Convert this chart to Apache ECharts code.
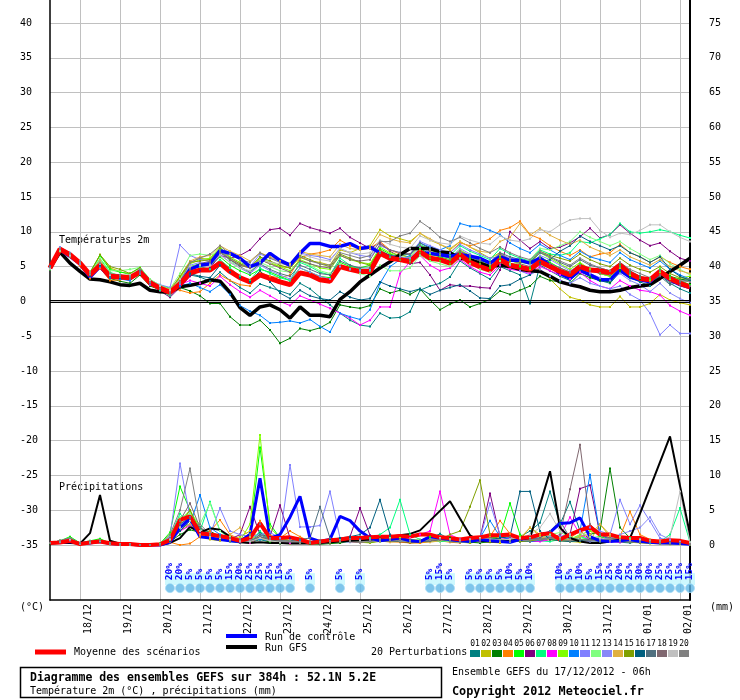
<!DOCTYPE html>
<html>
<head>
<meta charset="utf-8">
<script src="https://cdn.jsdelivr.net/npm/echarts@6.0.0/dist/echarts.min.js"></script>
<style>
  html, body { margin: 0; padding: 0; background: #fff; }
  #main { width: 740px; height: 700px; }
</style>
</head>
<body>
<div id="main"></div>
<script>
// forecast steps (hours after 17/12/2012 06h)
const HOURS = [0,6,12,18,24,30,36,42,48,54,60,66,72,78,84,90,96,102,108,114,120,126,132,138,144,150,156,162,168,174,180,186,192,198,204,210,216,222,228,234,240,246,252,258,264,270,276,282,288,294,300,306,312,318,324,330,336,342,348,354,360,366,372,378,384];
const DAY_TICKS = [18,42,66,90,114,138,162,186,210,234,258,282,306,330,354,378];
const DAY_LABELS = ['18/12','19/12','20/12','21/12','22/12','23/12','24/12','25/12','26/12','27/12','28/12','29/12','30/12','31/12','01/01','02/01'];
const TEMP_TICKS = [-35,-30,-25,-20,-15,-10,-5,0,5,10,15,20,25,30,35,40];
const MM_TICKS = [0,5,10,15,20,25,30,35,40,45,50,55,60,65,70,75];
const MEMBER_NAMES = ['01','02','03','04','05','06','07','08','09','10','11','12','13','14','15','16','17','18','19','20'];
const MEMBER_COLORS = ['#008080','#c0c000','#008000','#ff8000','#00ff00','#800080','#00ff80','#ff00ff','#80ff00','#0080ff','#8080ff','#80ff80','#8888f8','#e0b040','#80a000','#006080','#507080','#806870','#c0c0c0','#808080'];

// temperature 2m (°C)
const meanTemp = [4.8,7.5,6.7,5.5,3.8,5.2,3.6,3.5,3.4,4.2,2.7,1.9,1.3, 2.5,4.1,4.5,4.5, 5.5,4.3,3.4,2.8, 3.8,3.3,2.8,2.4, 4.1,3.8,3.1,2.9, 5.0,4.6,4.3,4.3, 6.9,6.2,6.0,5.7, 7.1,6.2,6.0,5.5, 6.7,5.6,5.0,4.5, 6.0,5.2,4.9,4.6, 5.7,5.0,4.3,3.8, 5.0,4.5,4.4,4.1, 5.2,4.0,3.3,3.1, 4.3,3.3,2.6,2.1];
const gfsTemp = [4.8,7.1,5.5,4.3,3.2,3.1,2.8,2.4,2.3,2.6,1.6,1.4,1.3, 2.1,2.3,2.6,3.1, 2.9,1.3,-0.9,-2.0, -0.8,-0.5,-1.2,-2.4, -0.8,-2.0,-2.0,-2.2, 0.3,1.4,2.8,3.8, 4.8,5.7,6.7,7.6, 7.6,7.6,7.1,7.0, 6.2,6.0,5.5,5.0, 5.2,5.0,4.6,4.4, 4.3,3.6,2.8,2.4, 2.1,1.6,1.4,1.4, 1.6,2.0,2.2,2.4, 3.3,4.3,5.2,6.2];
const ctrlTemp = [4.8,7.4,6.5,5.4,3.5,5.0,3.5,3.6,3.3,4.3,2.8,1.9,1.2, 2.4,4.6,5.2,5.4, 7.3,6.9,6.2,5.0, 5.5,6.9,5.9,5.2, 6.9,8.3,8.3,7.9, 7.9,8.3,7.6,7.8, 7.0,6.4,5.9,5.9, 6.9,6.9,6.7,6.5, 6.7,6.5,6.2,5.5, 6.4,5.9,5.9,5.5, 6.2,5.2,4.0,3.3, 4.5,3.8,3.1,3.1, 4.5,3.5,3.1,2.8, 4.3,3.1,2.4,2.0];
const t01 = [4.8,7.6,6.8,5.4,3.5,5.6,3.9,3.7,3.6,4.6,2.9,2.0,1.0, 2.2,3.8,3.5,2.9, 4.2,3.0,2.0,1.2, 2.5,2.0,1.5,1.0, 2.6,1.8,0.6,-0.5, -1.7,-2.7,-3.4,-3.6, -1.7,-2.4,-2.3,-1.5, 1.6,2.2,2.6,3.5, 5.8,4.8,4.0,3.2, 5.0,4.4,3.8,-0.3, 5.2,4.4,3.6,3.0, 4.4,3.6,3.0,2.6, 4.2,3.4,2.8,2.2, 3.8,2.6,1.8,1.2];
const t02 = [4.9,7.4,6.5,5.6,4.0,6.7,4.8,4.3,3.8,4.6,2.6,1.6,0.8, 3.5,5.6,6.2,6.0, 7.4,6.0,5.2,4.8, 6.0,5.4,5.0,4.8, 6.3,5.8,5.6,5.2, 7.4,7.0,7.6,8.0, 10.3,9.4,9.0,8.6, 9.8,8.8,8.2,7.4, 8.6,7.8,7.0,6.2, 7.0,6.0,5.2,4.6, 4.6,3.2,1.8,0.6, 0.2,-0.5,-0.8,-0.8, 0.7,-0.8,-0.8,-0.3, 1.0,0.2,-0.2,-0.5];
const t03 = [4.7,7.5,6.9,5.7,3.9,5.0,3.3,2.9,2.6,3.8,2.2,1.7,1.5, 2.0,1.5,0.8,-0.3, -0.3,-2.2,-3.4,-3.4, -2.7,-4.1,-6.0,-5.3, -3.9,-4.2,-3.8,-3.0, -0.5,-0.8,-1.0,-0.6, 1.8,1.2,1.6,1.0, 1.8,0.2,-1.2,-0.4, 0.2,-0.8,-0.3,0.3, 1.5,1.0,1.6,2.2, 3.6,3.0,2.8,2.6, 4.0,3.4,3.0,2.8, 4.4,3.6,3.2,3.0, 4.4,3.6,3.2,3.0];
const t04 = [5.0,7.7,6.6,5.2,3.3,4.8,3.0,3.1,3.3,4.4,3.0,2.2,1.8, 1.6,1.2,1.4,2.6, 3.8,3.0,2.4,2.2, 4.2,3.6,3.4,3.8, 6.2,6.8,7.0,7.4, 8.8,8.0,7.8,7.6, 8.6,7.4,6.8,6.2, 7.4,6.6,6.8,7.0, 8.4,8.0,8.4,9.0, 10.2,10.6,11.5,9.6, 9.0,8.0,7.2,6.6, 7.4,6.4,6.8,7.0, 8.2,7.0,6.4,5.6, 6.4,5.6,5.0,4.6];
const t05 = [4.6,7.3,6.7,5.6,4.2,6.6,4.6,4.2,4.0,4.9,3.1,2.3,1.9, 3.2,5.0,5.4,5.2, 6.4,5.2,4.4,3.8, 4.6,4.2,3.6,3.0, 4.8,4.2,3.6,3.4, 5.6,5.0,4.8,5.2, 7.6,6.8,6.4,6.0, 7.6,6.8,6.4,6.0, 7.0,6.2,5.4,4.8, 6.2,5.4,5.0,4.8, 6.4,5.6,4.8,4.2, 5.4,4.6,4.0,3.6, 5.2,4.2,3.6,3.2, 4.6,3.6,3.0,2.4];
const t06 = [4.8,7.5,6.6,5.5,3.7,5.4,3.7,3.3,3.0,4.1,2.5,1.5,0.6, 2.0,3.6,4.4,4.8, 6.6,6.2,6.6,7.4, 9.0,10.3,10.5,9.5, 11.2,10.6,10.2,9.8, 10.5,9.2,8.4,7.6, 8.4,7.2,6.4,5.4, 5.6,3.8,1.6,2.4, 2.2,2.2,2.0,1.9, 4.5,10.0,8.8,7.6, 8.6,7.6,7.8,8.4, 9.3,10.5,9.1,9.6, 11.0,9.8,8.8,8.0, 8.4,7.2,6.2,5.8];
const t07 = [4.9,7.4,6.5,5.6,4.0,6.1,4.2,3.6,3.2,4.0,2.5,1.6,0.8, 2.6,4.6,5.0,4.6, 6.0,4.8,3.6,3.0, 4.8,4.0,3.4,3.0, 5.6,5.0,4.2,3.8, 6.2,5.2,4.6,4.4, 7.0,6.4,6.6,6.8, 8.2,7.4,7.0,6.6, 8.0,7.2,6.6,6.0, 7.6,6.8,6.2,5.8, 7.4,6.8,6.6,7.0, 8.6,8.4,9.0,9.6, 11.2,10.0,9.8,10.0, 10.3,10.0,9.5,9.1];
const t08 = [4.8,7.6,6.8,5.4,3.5,5.0,3.5,3.4,3.2,4.0,2.4,1.8,1.2, 2.4,3.0,2.6,2.2, 3.6,2.4,1.4,0.6, 1.6,0.8,0.0,-0.6, 0.8,0.2,-0.4,-1.0, -1.7,-2.4,-3.4,-2.7, -0.8,-0.8,4.0,5.7, 6.6,5.2,4.4,4.8, 6.0,5.0,4.2,3.8, 5.2,4.6,4.4,4.0, 5.0,4.4,3.8,3.2, 4.2,3.0,2.2,1.8, 3.0,2.2,1.6,1.4, 0.9,-0.6,-1.4,-2.0];
const t09 = [4.7,7.3,6.6,5.6,4.0,5.8,3.9,3.6,3.5,4.4,2.8,2.0,1.6, 3.4,5.4,6.0,6.2, 7.8,6.4,5.6,5.0, 6.2,5.6,5.0,4.4, 6.0,5.4,4.8,4.6, 6.6,6.0,5.6,5.4, 7.8,7.0,6.6,6.4, 8.0,7.4,6.8,6.2, 7.4,6.6,5.8,5.2, 6.6,6.0,5.6,5.4, 7.0,6.2,5.4,4.6, 5.6,4.6,4.0,3.6, 4.8,3.8,3.4,3.0, 4.2,3.2,3.4,3.6];
const t10 = [5.0,7.5,6.6,5.4,3.6,5.0,3.4,3.2,3.0,4.2,2.6,1.8,1.0, 2.2,2.6,2.0,1.4, 2.4,1.0,-0.6,-1.4, -2.0,-3.1,-3.0,-2.8, -3.1,-2.6,-3.6,-4.4, -1.7,-2.2,-2.6,-1.2, 2.6,5.0,6.0,6.6, 8.4,7.8,7.4,8.0, 11.2,10.8,10.8,10.2, 9.6,8.4,7.6,7.0, 8.2,7.4,6.6,6.0, 7.2,6.4,6.0,5.6, 7.0,6.0,5.4,4.8, 5.8,4.6,3.8,3.2];
const t11 = [4.8,7.8,7.0,5.8,4.2,5.6,3.8,3.6,3.4,4.8,3.0,2.4,2.0, 8.1,6.6,6.0,5.8, 7.4,6.2,5.4,5.0, 6.8,6.2,5.8,5.4, 7.0,6.6,6.4,6.0, 7.6,7.0,6.6,6.4, 8.0,7.4,7.0,6.8, 8.6,8.0,7.4,7.0, 8.2,7.4,6.8,6.2, 6.4,5.2,4.4,3.8, 4.6,3.6,3.0,2.6, 3.4,2.6,2.2,1.8, 2.2,1.0,0.2,-1.7, -4.8,-3.4,-4.6,-4.6];
const t12 = [4.6,7.2,6.5,5.5,4.1,6.2,4.4,4.4,4.6,4.9,3.2,2.3,1.8, 4.0,6.6,6.8,6.6, 7.2,5.8,4.8,4.2, 5.6,5.0,4.4,4.2, 5.8,5.2,4.4,4.0, 5.4,4.6,4.0,3.6, 5.2,4.4,4.4,4.8, 6.6,5.8,5.4,5.0, 6.2,5.4,4.6,4.2, 5.8,5.4,5.6,6.0, 7.6,7.4,8.0,8.6, 10.0,9.2,8.6,8.0, 8.6,7.6,6.8,6.0, 6.6,5.4,4.6,3.8];
const t13 = [4.8,7.4,6.6,5.4,3.7,5.3,3.7,3.6,3.5,4.3,2.8,2.0,1.4, 3.0,5.2,5.6,5.4, 6.8,5.6,4.8,4.0, 5.2,4.4,3.8,3.2, 4.8,4.2,3.6,3.2, 5.0,4.6,4.4,4.6, 7.2,6.6,6.4,6.2, 7.8,7.0,6.6,6.2, 7.6,6.8,6.0,5.4, 6.8,6.2,5.8,5.4, 6.6,6.0,5.2,4.4, 5.2,4.0,3.4,3.0, 4.0,3.0,2.4,1.4, 2.6,1.2,0.4,-0.2];
const t14 = [4.9,7.6,6.7,5.5,3.9,5.9,4.0,3.8,3.7,4.5,2.9,2.1,1.7, 3.6,5.8,6.4,6.6, 8.0,7.2,6.6,5.8, 7.0,6.4,5.8,5.4, 7.2,6.8,6.6,6.4, 8.2,7.6,7.4,7.6, 9.6,9.0,8.6,8.4, 9.8,9.0,8.2,7.6, 8.6,7.8,7.2,7.0, 8.6,9.2,11.2,9.5, 10.5,9.5,8.8,8.2, 8.8,7.8,7.2,6.6, 7.4,6.4,5.8,5.2, 6.0,5.0,4.4,4.0];
const t15 = [4.7,7.4,6.7,5.7,4.1,6.7,5.0,4.6,4.0,4.8,3.0,2.1,1.5, 3.6,5.6,5.8,6.0, 7.6,6.2,5.4,4.8, 6.4,5.8,5.2,4.8, 6.6,6.0,5.4,5.0, 6.8,6.2,5.6,5.2, 7.4,6.6,6.0,5.6, 7.0,6.2,5.8,5.4, 6.8,6.0,5.4,5.0, 6.4,5.8,5.6,5.6, 7.2,6.6,6.2,5.8, 6.8,6.0,5.4,5.0, 6.2,5.2,4.6,4.2, 5.0,4.0,3.4,3.2];
const t16 = [5.0,7.5,6.8,5.5,3.6,5.2,3.6,3.4,3.6,4.4,2.8,2.0,1.2, 2.8,4.0,3.6,3.4, 5.2,4.2,3.4,2.8, 4.4,2.8,1.2,0.4, 1.6,0.8,0.4,0.2, 1.4,0.6,0.2,0.4, 2.8,2.2,1.8,1.4, 1.8,1.0,1.6,2.0, 2.4,1.5,0.5,0.4, 2.2,2.4,3.2,3.8, 5.6,6.0,7.2,8.0, 9.4,8.6,8.0,7.4, 8.0,7.0,6.4,5.6, 6.4,4.6,3.6,3.0];
const t17 = [4.8,7.4,6.6,5.5,3.8,5.4,3.8,3.5,3.3,4.2,2.6,1.8,1.1, 2.8,4.6,5.2,5.6, 7.2,6.0,5.0,4.2, 5.4,4.6,4.0,3.6, 5.2,4.6,4.0,3.8, 5.8,5.2,4.8,4.8, 7.0,6.6,6.6,6.8, 8.4,7.6,7.0,6.4, 7.2,6.4,5.8,5.6, 7.0,6.4,6.0,5.6, 7.0,6.4,5.6,5.0, 6.0,5.2,4.8,4.4, 5.6,4.4,3.6,2.8, 3.6,2.4,2.8,3.2];
const t18 = [4.8,7.6,6.7,5.6,3.9,5.5,3.7,3.5,3.4,4.2,2.7,1.9,1.3, 3.0,4.8,5.4,5.8, 7.0,6.0,5.2,4.8, 6.0,5.4,4.8,4.2, 5.8,5.4,5.0,4.8, 6.6,6.0,5.8,6.0, 8.2,7.4,7.0,6.8, 8.0,7.2,6.6,6.2, 7.2,6.6,6.0,5.6, 6.8,6.0,5.4,5.0, 6.2,5.4,4.8,4.2, 5.2,4.4,4.0,3.8, 5.0,4.0,3.4,2.8, 3.8,2.8,2.4,2.2];
const t19 = [4.7,7.4,6.6,5.6,4.0,5.4,3.8,3.8,3.8,4.6,3.0,2.2,1.6, 3.2,5.0,5.2,5.2, 6.6,5.6,4.8,4.4, 6.0,5.6,5.4,5.2, 6.8,6.4,6.0,5.8, 7.6,7.0,6.8,7.0, 8.8,8.2,7.8,7.6, 9.4,8.8,8.4,8.2, 9.4,8.8,8.4,8.2, 9.4,8.8,8.6,9.0, 10.3,10.0,11.0,11.7, 11.9,11.9,10.2,9.2, 9.8,9.6,10.2,11.0, 11.0,10.0,9.2,8.6];
const t20 = [4.9,7.5,6.9,5.7,4.0,5.5,4.0,3.8,3.6,4.6,2.8,1.8,1.0, 2.8,5.6,6.2,6.8, 8.0,6.8,6.0,5.6, 7.0,6.2,5.6,5.0, 6.4,5.8,5.4,5.2, 7.0,6.6,6.2,6.6, 8.6,8.6,9.4,9.8, 11.5,10.5,9.2,8.6, 9.2,8.4,7.6,7.0, 7.8,7.0,6.4,6.0, 7.2,6.4,5.8,5.2, 6.2,5.4,4.8,4.4, 5.6,4.6,4.0,3.4, 4.4,3.4,3.0,2.8];

// precipitation (mm per 6h)
const meanPrec = [0.3,0.35,0.6,0.15,0.35,0.5,0.25,0.15,0.15,0,0,0.1,0.7, 3.6,4.1,1.7,1.5, 1.3,1.0,0.6,1.0, 3.1,1.0,1.0,1.1, 0.8,0.3,0.5,0.7, 0.8,1.0,1.0,1.1, 1.2,1.2,1.3,1.2, 1.5,1.5,1.1,1.0, 0.8,1.0,1.1,1.4, 1.4,1.5,1.0,1.1, 1.5,1.7,0.8,1.5, 2.1,2.6,1.5,1.5, 1.1,1.0,1.0,0.6, 0.5,0.7,0.6,0.3];
const gfsPrec = [0.2,0.3,0.3,0.2,1.7,7.2,0.6,0.2,0.2,0,0,0,0.3, 1.0,2.6,1.8,2.4, 2.2,1.2,0.4,0.3, 0.4,0.3,0.3,0.2, 0.2,0.2,0.3,0.4, 0.5,0.6,0.7,0.8, 1.0,1.2,1.4,1.6, 2.1,3.5,4.9,6.3, 3.8,1.4,0.6,0.5, 0.5,0.6,0.8,1.0, 5.8,10.6,2.5,1.0, 0.5,0.3,0.3,0.5, 0.8,1.0,4.5,8.2, 11.9,15.6,8.5,1.5];
const ctrlPrec = [0.3,0.4,0.5,0.2,0.3,0.5,0.2,0.1,0.1,0,0,0,0.4, 2.5,3.8,1.2,1.0, 0.8,0.6,0.5,1.5, 9.6,1.0,1.5,4.0, 7.0,1.0,0.5,0.8, 4.1,3.5,2.0,1.0, 0.6,0.8,1.0,0.6, 0.5,1.2,1.0,0.8, 0.6,0.5,0.8,0.6, 0.5,0.4,0.8,1.2, 1.4,1.8,3.1,3.2, 3.9,1.2,0.6,0.5, 0.6,0.8,0.5,0.4, 0.3,0.3,0.2,0.1];
const p01 = [0.3,0.5,0.9,0.2,0.4,0.6,0.2,0.1,0.1,0,0,0.1,1.0, 3.0,4.0,2.5,1.2, 0.8,0.5,0.3,0.6, 1.8,0.8,0.4,0.6, 0.5,0.2,0.3,0.6, 0.8,1.0,0.6,0.4, 0.8,1.2,0.9,0.5, 0.4,1.0,1.6,0.8, 0.5,0.3,0.6,0.9, 0.5,0.4,1.2,2.0, 3.2,7.7,3.0,6.2, 2.0,0.8,0.5,0.6, 0.4,0.3,0.5,0.3, 0.2,0.4,0.2,0.1];
const p02 = [0.3,0.6,1.0,0.2,0.5,0.8,0.3,0.1,0.1,0,0,0.1,0.8, 2.0,3.0,1.5,0.8, 0.6,0.8,1.2,2.0, 1.0,0.5,0.3,0.2, 0.3,0.2,0.2,0.4, 0.5,0.6,0.4,0.3, 0.6,0.5,0.8,0.4, 0.3,0.6,0.9,0.5, 0.4,0.3,0.5,0.4, 0.3,0.6,0.8,2.5, 1.5,0.8,0.6,0.5, 0.4,0.6,3.0,1.2, 0.6,0.4,0.3,0.2, 0.2,0.1,0.2,0.1];
const p03 = [0.2,0.4,0.8,0.2,0.3,0.5,0.2,0.1,0.1,0,0,0,0.5, 1.5,2.2,1.8,2.0, 1.2,0.6,0.4,0.3, 0.8,0.4,0.2,0.3, 0.4,0.2,0.1,0.2, 0.3,0.5,0.8,0.6, 0.9,0.7,0.5,0.3, 0.4,0.5,0.7,1.0, 0.6,0.4,0.3,0.5, 0.8,0.6,0.5,0.6, 0.9,1.2,1.0,0.8, 1.2,1.5,2.0,11.0, 2.5,1.0,0.6,0.4, 0.3,0.3,0.2,0.1];
const p04 = [0.3,0.5,0.7,0.2,0.4,0.4,0.1,0.1,0,0,0,0.1,0.4, 0,0.2,1.2,2.0, 3.6,1.5,0.8,0.6, 3.5,1.4,1.0,2.0, 1.2,0.5,0.3,0.4, 0.6,0.5,0.4,0.6, 0.8,0.5,0.4,0.3, 0.3,0.5,0.6,0.4, 0.3,0.8,0.6,1.2, 3.5,1.6,0.8,0.5, 0.6,0.8,1.2,1.0, 2.0,1.0,0.8,0.6, 1.2,4.8,1.5,0.8, 0.5,0.3,0.2,0.1];
const p05 = [0.3,0.6,1.2,0.3,0.6,0.9,0.3,0.1,0.1,0,0,0.2,1.8, 8.4,5.0,2.0,1.2, 0.9,0.6,0.5,1.5, 14.0,3.0,1.0,0.6, 0.5,0.3,0.4,0.6, 0.8,0.6,0.5,0.4, 0.6,0.8,1.0,0.7, 0.6,1.2,1.0,0.8, 0.7,0.5,0.6,1.0, 1.2,6.0,1.5,0.8, 1.0,1.2,0.8,0.6, 0.8,1.0,1.2,0.8, 0.6,0.5,0.8,0.6, 0.4,0.3,0.2,0.1];
const p06 = [0.3,0.5,0.8,0.2,0.4,0.5,0.2,0.1,0.1,0,0,0,0.6, 2.5,3.5,1.8,1.2, 1.0,0.8,1.5,5.5, 1.5,1.2,5.7,1.0, 0.6,0.4,0.3,0.5, 0.8,1.2,5.3,1.4, 0.8,0.6,0.5,0.4, 0.5,0.6,0.8,0.5, 0.4,0.6,1.0,7.4, 1.2,0.8,0.6,0.5, 0.6,0.8,1.0,1.5, 8.1,8.6,1.5,0.8, 0.6,0.5,0.4,0.3, 0.3,0.2,0.2,0.1];
const p07 = [0.3,0.6,1.0,0.2,0.5,0.7,0.2,0.1,0.1,0,0,0.1,1.2, 4.5,3.0,2.0,6.2, 2.0,1.0,0.6,0.4, 2.0,0.8,0.5,0.4, 0.3,0.4,0.6,0.8, 1.0,0.8,0.6,1.0, 1.5,2.5,6.5,1.5, 0.8,0.6,0.5,0.6, 0.8,0.6,0.5,0.7, 0.6,0.8,1.0,0.8, 0.6,0.5,0.8,1.0, 1.2,0.8,0.6,0.5, 0.8,1.0,0.8,0.6, 0.5,1.5,5.3,0.4];
const p08 = [0.3,0.4,0.7,0.2,0.3,0.4,0.2,0.1,0,0,0,0,0.5, 2.0,2.8,1.5,1.0, 0.8,0.6,0.4,0.3, 1.0,0.6,0.4,0.3, 0.4,0.3,0.2,0.4, 0.6,0.5,0.4,0.6, 0.8,0.6,0.8,1.0, 1.5,2.0,7.7,1.5, 0.8,0.6,0.5,0.6, 0.8,1.0,0.8,0.6, 0.5,0.8,1.2,4.0, 1.5,0.8,0.6,0.5, 0.4,0.6,0.5,0.4, 0.3,0.3,0.2,0.1];
const p09 = [0.3,0.5,1.0,0.2,0.4,0.6,0.2,0.1,0.1,0,0,0.1,1.5, 3.5,5.0,2.5,1.5, 1.0,0.8,0.6,3.0, 15.8,2.5,1.0,0.6, 0.5,0.4,0.5,0.6, 0.8,0.7,0.6,0.5, 0.6,0.8,1.0,0.8, 0.7,0.6,0.8,0.6, 0.5,0.6,0.8,1.0, 0.8,0.6,1.2,0.9, 1.0,0.8,0.6,0.8, 1.5,2.0,1.5,1.0, 0.8,0.6,0.5,0.4, 0.3,0.3,0.2,0.1];
const p10 = [0.3,0.5,0.8,0.2,0.4,0.5,0.2,0.1,0.1,0,0,0,0.8, 2.5,3.0,7.2,2.5, 1.5,1.0,0.8,0.6, 0.8,0.6,0.4,0.5, 0.6,0.4,0.3,0.5, 0.7,0.6,0.8,0.5, 0.6,0.8,0.7,0.5, 0.6,0.8,1.0,0.7, 0.6,0.8,1.0,3.5, 1.2,0.8,0.6,0.5, 0.7,1.0,1.2,1.5, 2.0,10.1,1.5,0.8, 0.6,0.5,0.4,0.3, 0.3,0.2,0.2,0.1];
const p11 = [0.3,0.6,1.0,0.2,0.5,0.7,0.2,0.1,0.1,0,0,0.1,1.2, 11.7,4.0,2.0,1.5, 5.3,2.0,1.5,1.2, 1.5,1.8,1.0,11.5, 2.6,2.6,2.8,7.7, 1.0,0.8,0.6,0.5, 0.6,0.8,0.7,0.6, 0.5,0.6,0.8,0.6, 0.5,0.7,1.0,6.0, 1.5,1.0,0.8,0.6, 0.8,1.0,1.2,1.5, 2.0,2.5,2.0,1.5, 6.5,3.0,5.7,3.4, 1.0,0.6,0.4,0.2];
const p12 = [0.3,0.5,0.9,0.2,0.4,0.6,0.2,0.1,0.1,0,0,0.1,1.0, 4.0,4.5,3.0,6.0, 2.0,1.2,0.8,0.6, 1.5,0.8,0.6,0.5, 0.4,0.3,0.4,0.5, 0.8,0.6,0.5,0.6, 0.8,1.0,0.8,0.6, 0.5,0.6,0.7,0.5, 0.4,0.5,0.7,0.8, 0.6,0.5,0.8,1.0, 1.2,1.5,1.8,1.2, 0.8,0.6,0.8,1.0, 1.2,0.8,0.6,0.5, 0.4,0.3,0.2,0.1];
const p13 = [0.3,0.5,0.8,0.2,0.4,0.5,0.2,0.1,0,0,0,0,0.6, 2.5,3.0,2.0,1.5, 1.2,1.0,0.8,0.6, 1.0,0.8,0.6,0.5, 0.4,0.3,0.4,0.6, 0.5,0.4,0.6,0.8, 0.6,0.5,0.7,0.6, 0.5,0.6,0.8,0.6, 0.5,0.6,0.8,0.9, 0.6,0.5,0.7,0.8, 1.0,1.2,1.0,0.8, 0.6,0.5,0.8,1.0, 1.5,2.0,2.5,4.0, 1.5,0.8,0.5,0.3];
const p14 = [0.3,0.6,0.9,0.2,0.4,0.6,0.2,0.1,0.1,0,0,0.1,1.0, 2.5,3.0,1.5,1.0, 0.8,1.5,2.5,1.2, 1.0,0.8,0.5,0.6, 0.4,0.3,0.4,0.5, 0.6,0.5,0.4,0.5, 0.6,0.4,0.5,0.6, 0.5,0.4,0.6,0.8, 0.6,0.5,0.7,0.6, 0.5,0.8,1.0,2.5, 1.2,0.8,1.0,0.8, 1.2,1.5,3.0,1.5, 1.0,0.8,0.6,0.5, 0.4,0.3,0.2,0.1];
const p15 = [0.3,0.5,0.8,0.2,0.4,0.5,0.2,0.1,0.1,0,0,0.1,0.8, 3.0,5.0,2.0,1.2, 0.8,0.6,0.5,0.4, 1.0,0.6,0.4,0.5, 0.4,0.3,0.3,0.4, 0.5,0.6,0.5,0.4, 0.5,0.6,0.5,0.4, 0.5,0.6,0.8,1.5, 2.0,5.5,9.3,1.5, 0.8,0.6,0.5,0.6, 0.8,1.0,0.8,0.6, 0.7,0.8,1.0,0.8, 0.6,0.5,0.4,0.5, 0.4,0.3,0.2,0.1];
const p16 = [0.3,0.5,0.8,0.2,0.4,0.5,0.2,0.1,0.1,0,0,0,0.5, 2.0,3.5,2.5,1.5, 1.2,0.8,0.6,0.5, 1.2,0.8,0.6,0.5, 0.4,0.3,0.5,0.8, 1.0,1.2,1.5,2.5, 6.5,1.5,0.8,0.6, 0.5,0.6,0.8,0.6, 0.5,0.6,0.7,0.8, 1.0,1.2,7.7,7.7, 2.0,0.8,0.6,0.5, 0.6,0.8,1.0,0.8, 0.6,0.5,0.8,0.6, 0.5,0.4,0.3,0.2];
const p17 = [0.3,0.5,0.9,0.2,0.4,0.6,0.2,0.1,0.1,0,0,0.1,0.9, 3.0,4.0,2.5,1.5, 1.0,0.8,0.6,0.5, 1.5,0.8,0.5,0.6, 0.8,1.0,5.5,1.0, 0.6,0.5,0.4,0.6, 0.8,0.6,0.5,0.7, 0.6,0.8,1.0,0.7, 0.6,0.5,0.6,0.8, 0.7,0.6,0.8,0.9, 1.0,2.0,3.5,1.0, 0.8,0.6,0.5,0.6, 0.5,0.4,0.6,0.5, 0.4,0.3,0.2,0.1];
const p18 = [0.3,0.6,1.0,0.2,0.5,0.7,0.2,0.1,0.1,0,0,0.1,1.0, 3.5,6.0,2.5,1.5, 1.0,0.8,0.6,0.5, 1.2,0.8,0.6,0.5, 0.4,0.5,0.6,0.5, 0.6,0.8,0.6,0.5, 0.7,0.6,0.8,0.6, 0.5,0.6,0.8,0.7, 0.6,0.7,0.8,1.0, 1.5,1.2,1.0,0.8, 0.8,1.0,1.5,8.0, 14.4,3.0,1.5,1.0, 0.8,0.6,0.5,0.6, 0.5,0.4,0.3,0.2];
const p19 = [0.3,0.5,0.8,0.2,0.4,0.6,0.2,0.1,0.1,0,0,0.1,0.8, 2.5,3.5,2.0,1.2, 1.0,0.8,0.6,0.5, 1.0,0.6,0.4,0.5, 0.4,0.3,0.4,0.5, 0.6,0.5,0.6,0.5, 0.6,0.8,0.6,0.5, 0.6,0.8,1.0,0.8, 0.6,0.8,1.0,0.8, 0.7,0.8,1.0,1.5, 2.5,4.5,2.0,1.5, 1.8,1.2,1.0,0.8, 0.7,0.6,0.8,0.6, 0.5,1.2,7.7,0.4];
const p20 = [0.3,0.6,1.0,0.3,0.5,0.7,0.2,0.1,0.1,0,0,0.1,1.5, 5.0,11.0,3.0,1.5, 1.2,1.0,0.8,1.5, 3.0,1.0,0.6,0.5, 0.4,0.3,0.4,0.5, 0.6,0.5,0.4,0.5, 0.6,0.8,0.6,0.5, 0.6,0.8,0.8,0.6, 0.5,0.6,0.8,0.7, 0.6,0.5,0.7,0.8, 0.8,1.0,0.8,0.6, 0.8,0.7,0.6,0.8, 0.6,0.5,0.4,0.5, 0.4,0.3,0.2,0.1];

// snow probability row
const SNOW_HOURS = [72,78,84,90,96,102,108,114,120,126,132,138,144,156,174,186,228,234,240,252,258,264,270,276,282,288,306,312,318,324,330,336,342,348,354,360,366,372,378,384];
const SNOW_PCT = [20,20,5,5,5,5,15,20,25,25,25,15,5,5,5,5,5,15,5,5,5,5,5,10,5,10,10,5,10,5,15,25,20,25,30,30,25,25,15,15];

const pertTemps = [t01,t02,t03,t04,t05,t06,t07,t08,t09,t10,t11,t12,t13,t14,t15,t16,t17,t18,t19,t20];
const pertPrecs = [p01,p02,p03,p04,p05,p06,p07,p08,p09,p10,p11,p12,p13,p14,p15,p16,p17,p18,p19,p20];

const MONO = '"DejaVu Sans Mono", monospace';
const SNOW_ROW = -41.2; // just under the precipitation baseline

function lineSeries(values, axis, color, width, dots) {
  return {
    type: 'line',
    yAxisIndex: axis,
    data: HOURS.map((h, i) => [h, values[i]]),
    showSymbol: dots,
    symbol: 'rect',
    symbolSize: 2,
    lineStyle: { color: color, width: width },
    itemStyle: { color: color },
    silent: true,
    animation: false
  };
}

const series = [];
pertTemps.forEach((d, k) => series.push(lineSeries(d, 0, MEMBER_COLORS[k], 1, true)));
pertPrecs.forEach((d, k) => series.push(lineSeries(d, 1, MEMBER_COLORS[k], 1, true)));
series.push(lineSeries(gfsTemp, 0, '#000', 3.5, false));
series.push(lineSeries(gfsPrec, 1, '#000', 2, false));
series.push(lineSeries(ctrlTemp, 0, '#0000ff', 3.5, false));
series.push(lineSeries(ctrlPrec, 1, '#0000ff', 3, false));
const meanT = lineSeries(meanTemp, 0, '#ff0000', 5, false);
meanT.markLine = {
  silent: true, symbol: ['none', 'none'], label: { show: false },
  lineStyle: { color: '#000', width: 1, type: 'solid' },
  data: [{ yAxis: 0.18 }, { yAxis: -0.15 }]
};
series.push(meanT);
series.push(lineSeries(meanPrec, 1, '#ff0000', 4, false));

// snow icons with percentages
series.push({
  type: 'scatter', yAxisIndex: 0, silent: true, animation: false,
  data: SNOW_HOURS.map(h => [h, SNOW_ROW]),
  symbol: 'rect', symbolSize: [10, 12], symbolOffset: [0, -9],
  itemStyle: { color: '#c0f6fe' }
});
series.push({
  type: 'scatter', yAxisIndex: 0, silent: true, animation: false,
  data: SNOW_HOURS.map(h => [h, SNOW_ROW]),
  symbol: 'circle', symbolSize: 9,
  itemStyle: { color: '#5fb6e6', borderColor: '#a6dcf6', borderWidth: 1 },
  label: {
    show: true, position: [4.5, -3], rotate: 90, align: 'left', verticalAlign: 'middle',
    formatter: p => SNOW_PCT[p.dataIndex] + '%',
    color: '#0000ff', fontSize: 9.5, fontWeight: 'bold', fontFamily: MONO,
    opacity: 1, textBorderWidth: 0, textBorderColor: 'transparent'
  },
  emphasis: { disabled: true }
});

function txt(text, x, y, size, bold, align) {
  return {
    type: 'text', silent: true,
    style: {
      text: text, x: x, y: y, fill: '#000',
      font: (bold ? 'bold ' : '') + size + 'px ' + MONO,
      textAlign: align || 'left', textVerticalAlign: 'middle',
      align: align || 'left', verticalAlign: 'middle'
    }
  };
}
function seg(x1, x2, y, color, w) {
  return { type: 'line', silent: true, shape: { x1: x1, y1: y, x2: x2, y2: y }, style: { stroke: color, lineWidth: w } };
}

const graphic = [
  txt('Températures 2m', 59, 240, 10),
  txt('Précipitations', 59, 487, 10),
  txt('(°C)', 20, 607, 10),
  txt('(mm)', 710, 607, 10),
  seg(35, 66, 652, '#ff0000', 5),
  txt('Moyenne des scénarios', 74, 652, 10),
  seg(226, 257, 636, '#0000ff', 4),
  txt('Run de contrôle', 265, 637, 10),
  seg(226, 257, 647, '#000', 4),
  txt('Run GFS', 265, 648, 10),
  txt('20 Perturbations', 371, 652, 10),
  {
    type: 'rect', silent: true,
    shape: { x: 20.5, y: 667.5, width: 421, height: 30 },
    style: { fill: 'none', stroke: '#000', lineWidth: 1.5 }
  },
  txt('Diagramme des ensembles GEFS sur 384h : 52.1N 5.2E', 30, 678, 11.5, true),
  txt('Température 2m (°C) , précipitations (mm)', 30, 691, 10),
  txt('Ensemble GEFS du 17/12/2012 - 06h', 452, 672, 10),
  txt('Copyright 2012 Meteociel.fr', 452, 692, 11.8, true)
];
MEMBER_COLORS.forEach((c, k) => {
  const x = 470 + k * 11;
  graphic.push({ type: 'rect', silent: true, shape: { x: x, y: 650, width: 10, height: 7 }, style: { fill: c } });
  graphic.push(txt(MEMBER_NAMES[k], x + 5, 644, 8, false, 'center'));
});

const axisFont = { fontFamily: MONO, fontSize: 10, color: '#000' };

const chart = echarts.init(document.getElementById('main'), null, { renderer: 'canvas' });
chart.setOption({
  animation: false,
  backgroundColor: '#fff',
  grid: { left: 50, right: 50, top: 0, bottom: 100 },
  xAxis: {
    type: 'value', min: 0, max: 384,
    axisLine: { show: true, onZero: false, lineStyle: { color: '#000', width: 1.5 } },
    axisTick: { show: false, customValues: DAY_TICKS },
    axisLabel: Object.assign({
      customValues: DAY_TICKS, rotate: 90, margin: 4,
      align: 'right', verticalAlign: 'top', lineHeight: 16,
      formatter: v => DAY_LABELS[DAY_TICKS.indexOf(v)]
    }, axisFont),
    splitLine: { show: true, lineStyle: { color: '#c0c0c0', width: 1 } }
  },
  yAxis: [
    {
      type: 'value', min: -42.9, max: 43.3, position: 'left',
      axisLine: { show: true, lineStyle: { color: '#000', width: 1.5 } },
      axisTick: { show: false, customValues: TEMP_TICKS },
      axisLabel: Object.assign({ customValues: TEMP_TICKS, align: 'left', margin: 30 }, axisFont),
      splitLine: { show: true, lineStyle: { color: '#c0c0c0', width: 1 } }
    },
    {
      type: 'value', min: -7.9, max: 78.3, position: 'right',
      axisLine: { show: true, lineStyle: { color: '#000', width: 2 } },
      axisTick: { show: false, customValues: MM_TICKS },
      axisLabel: Object.assign({ customValues: MM_TICKS, align: 'left', margin: 19 }, axisFont),
      splitLine: { show: false }
    }
  ],
  graphic: graphic,
  series: series
});
</script>
</body>
</html>
